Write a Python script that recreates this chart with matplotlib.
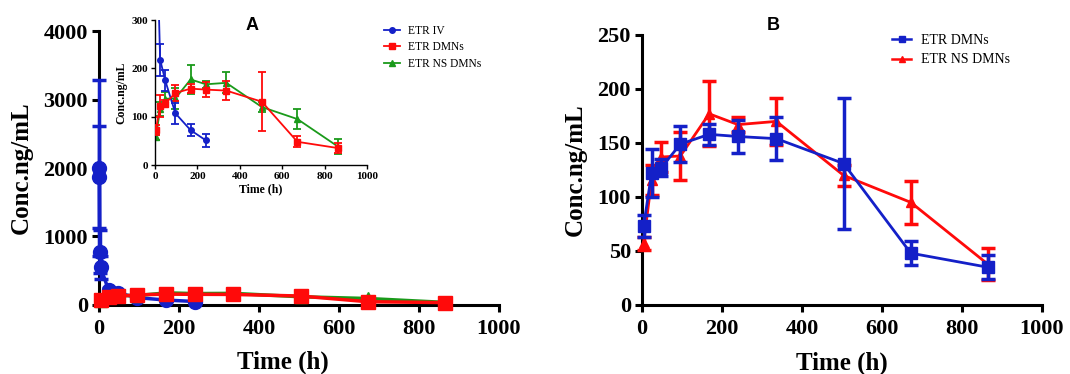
import matplotlib
matplotlib.use("Agg")
import matplotlib.pyplot as plt
from matplotlib.lines import Line2D

# data
iv_time = [0.5, 1, 2, 4, 24, 48, 96, 168, 240]
iv_conc = [2000, 1870, 780, 550, 218, 175, 107, 72, 51]
iv_sd = [1280, 750, 320, 170, 33, 22, 22, 13, 13]

dmn_time = [4, 24, 48, 96, 168, 240, 336, 504, 672, 864]
dmn_conc = [73, 122, 127, 149, 158, 156, 154, 131, 48, 35]
dmn_sd = [10, 22, 8, 17, 10, 15, 20, 61, 11, 11]
ns_conc = [57, 116, 137, 138, 177, 167, 170, 120, 95, 38]
ns_sd = [6, 14, 14, 22, 30, 7, 22, 10, 20, 15]

BLUE = "#1420c8"
RED = "#ff0a0a"
GREEN = "#1a9a1a"
SERIF = "Liberation Serif"

fig = plt.figure(figsize=(10.7, 3.74), dpi=100)


def style_axes(ax, lw, fs, tlen, xpad=3, ypad=3):
    for s in ["top", "right"]:
        ax.spines[s].set_visible(False)
    for s in ["left", "bottom"]:
        ax.spines[s].set_linewidth(lw)
    ax.tick_params(width=lw, length=tlen, labelsize=fs, direction="out")
    ax.tick_params(axis="x", pad=xpad)
    ax.tick_params(axis="y", pad=ypad)
    for lab in ax.get_xticklabels() + ax.get_yticklabels():
        lab.set_fontfamily(SERIF)
        lab.set_fontweight("bold")


# ---- panel A main ----
axA = fig.add_axes([0.0925, 0.1845, 0.3738, 0.7326])
axA.errorbar(iv_time, iv_conc, yerr=iv_sd, color=BLUE, marker="o", ms=10, lw=2.5,
             capsize=5, capthick=2.5, elinewidth=2.5, clip_on=False, zorder=3)
axA.errorbar(dmn_time, ns_conc, yerr=ns_sd, color=GREEN, marker="^", ms=9, lw=2.5,
             capsize=5, capthick=2.5, elinewidth=2.5, clip_on=False, zorder=3)
axA.errorbar(dmn_time, dmn_conc, yerr=dmn_sd, color=RED, marker="s", ms=10, lw=2.5,
             capsize=5, capthick=2.5, elinewidth=2.5, clip_on=False, zorder=4)
axA.set_xlim(0, 1000)
axA.set_ylim(0, 4000)
axA.set_xticks([0, 200, 400, 600, 800, 1000])
axA.set_yticks([0, 1000, 2000, 3000, 4000])
style_axes(axA, 2.2, 16, 5, xpad=5, ypad=3)
axA.set_xlabel("Time (h)", fontfamily=SERIF, fontweight="bold", fontsize=18)
axA.xaxis.set_label_coords(0.46, -0.168)
axA.set_ylabel("Conc.ng/mL", fontfamily=SERIF, fontweight="bold", fontsize=18, labelpad=8)

# ---- panel A inset ----
axI = fig.add_axes([0.1449, 0.5588, 0.198, 0.3877])
axI.errorbar(iv_time, iv_conc, yerr=iv_sd, color=BLUE, marker="o", ms=4, lw=1.3,
             capsize=3, capthick=1.3, elinewidth=1.3, zorder=3)
axI.errorbar(dmn_time, dmn_conc, yerr=dmn_sd, color=RED, marker="s", ms=4.5, lw=1.3,
             capsize=3, capthick=1.3, elinewidth=1.3, zorder=3)
axI.errorbar(dmn_time, ns_conc, yerr=ns_sd, color=GREEN, marker="^", ms=4.5, lw=1.3,
             capsize=3, capthick=1.3, elinewidth=1.3, zorder=2)
axI.set_xlim(0, 1000)
axI.set_ylim(0, 300)
axI.set_xticks([0, 200, 400, 600, 800, 1000])
axI.set_yticks([0, 100, 200, 300])
axI.set_facecolor("none")
style_axes(axI, 1.0, 8, 3, xpad=2, ypad=2)
axI.set_xlabel("Time (h)", fontfamily=SERIF, fontweight="bold", fontsize=8.5, labelpad=2)
axI.set_ylabel("Conc.ng/mL", fontfamily=SERIF, fontweight="bold", fontsize=8.5, labelpad=3)

hA = [Line2D([], [], color=BLUE, marker="o", ms=4, lw=1.3),
      Line2D([], [], color=RED, marker="s", ms=4.5, lw=1.3),
      Line2D([], [], color=GREEN, marker="^", ms=4.5, lw=1.3)]
fig.legend(hA, ["ETR IV", "ETR DMNs", "ETR NS DMNs"], loc="upper left",
           bbox_to_anchor=(0.349, 0.962), frameon=False,
           prop={"family": SERIF, "size": 8.3}, handlelength=1.4, handletextpad=0.7,
           labelspacing=0.4)
fig.text(252 / 1070, 1 - 25 / 374, "A", ha="center", va="center",
         fontfamily="Liberation Sans", fontweight="bold", fontsize=13)

# ---- panel B ----
axB = fig.add_axes([0.6, 0.1845, 0.3738, 0.722])
axB.errorbar(dmn_time, ns_conc, yerr=ns_sd, color=RED, marker="^", ms=7, lw=2.0,
             capsize=5, capthick=2.5, elinewidth=2.5, clip_on=False, zorder=3)
axB.errorbar(dmn_time, dmn_conc, yerr=dmn_sd, color=BLUE, marker="s", ms=8, lw=2.0,
             capsize=5, capthick=2.5, elinewidth=2.5, clip_on=False, zorder=4)
axB.set_xlim(0, 1000)
axB.set_ylim(0, 250)
axB.set_xticks([0, 200, 400, 600, 800, 1000])
axB.set_yticks([0, 50, 100, 150, 200, 250])
style_axes(axB, 2.2, 16, 5, xpad=5, ypad=3)
axB.set_xlabel("Time (h)", fontfamily=SERIF, fontweight="bold", fontsize=18)
axB.xaxis.set_label_coords(0.5, -0.174)
axB.set_ylabel("Conc.ng/mL", fontfamily=SERIF, fontweight="bold", fontsize=18, labelpad=8)
hB = [Line2D([], [], color=BLUE, marker="s", ms=5, lw=1.8),
      Line2D([], [], color=RED, marker="^", ms=5, lw=1.8)]
fig.legend(hB, ["ETR DMNs", "ETR NS DMNs"], loc="upper left",
           bbox_to_anchor=(0.822, 0.942), frameon=False,
           prop={"family": SERIF, "size": 10}, handlelength=1.4, handletextpad=0.7,
           labelspacing=0.45)
fig.text(773 / 1070, 1 - 25 / 374, "B", ha="center", va="center",
         fontfamily="Liberation Sans", fontweight="bold", fontsize=13)

fig.savefig("out.png", dpi=100)
